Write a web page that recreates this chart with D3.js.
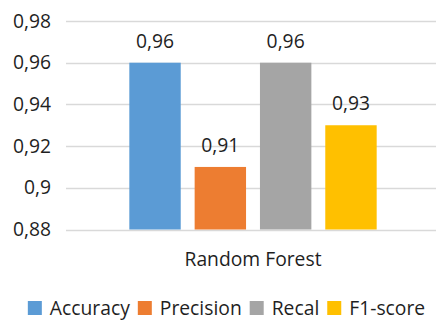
<!DOCTYPE html>
<html>
<head>
<meta charset="utf-8">
<script src="https://cdn.jsdelivr.net/npm/d3@7"></script>
<style>
  html, body { margin: 0; padding: 0; background: #fff; }
  svg { display: block; font-family: "Open Sans", sans-serif; }
</style>
</head>
<body>
<svg id="chart" width="436" height="320"></svg>
<script>
// Model scores for the Random Forest classifier
const categories = ["Random Forest"];
const seriesNames = ["Accuracy", "Precision", "Recal", "F1-score"];
const seriesValues = [0.96, 0.91, 0.96, 0.93];
const seriesColors = ["#5B9BD5", "#ED7D31", "#A5A5A5", "#FFC000"];
const yTickValues = [0.88, 0.90, 0.92, 0.94, 0.96, 0.98];
const yTickLabels = ["0,88", "0,9", "0,92", "0,94", "0,96", "0,98"];

const svg = d3.select("#chart");
const plot = { left: 66, right: 440, top: 21, bottom: 229.5 };
const fontSize = 19.3;
const textColor = "#1f1f1f";

const y = d3.scaleLinear().domain([0.88, 0.98]).range([plot.bottom, plot.top]);

const x0 = d3.scaleBand().domain(categories)
  .range([plot.left, plot.right]).paddingInner(0).paddingOuter(0.256);
const x1 = d3.scaleBand().domain(seriesNames)
  .range([0, x0.bandwidth()]).paddingInner(0.213).paddingOuter(0);

const fmt = v => d3.format(".2f")(v).replace(/0$/, "").replace(".", ",");

// Gridlines
svg.append("g")
  .selectAll("line").data(yTickValues).join("line")
  .attr("x1", plot.left).attr("x2", plot.right)
  .attr("y1", d => Math.round(y(d)) + 0.5).attr("y2", d => Math.round(y(d)) + 0.5)
  .attr("stroke", "#D9D9D9").attr("stroke-width", 1.3);

// Y axis labels
const yAxis = d3.axisLeft(y)
  .tickValues(yTickValues)
  .tickFormat((d, i) => yTickLabels[i])
  .tickSize(0).tickPadding(0);
const gy = svg.append("g").attr("transform", `translate(51,0)`).call(yAxis);
gy.select(".domain").remove();
gy.selectAll("text")
  .attr("font-family", "Open Sans, sans-serif")
  .attr("font-size", fontSize).attr("fill", textColor);

// Bars
const group = svg.append("g").selectAll("g").data(categories).join("g")
  .attr("transform", d => `translate(${x0(d)},0)`);

const rows = seriesNames.map((name, i) => ({ name, value: seriesValues[i], color: seriesColors[i] }));

group.selectAll("rect").data(rows).join("rect")
  .attr("x", d => x1(d.name))
  .attr("width", x1.bandwidth())
  .attr("y", d => y(d.value))
  .attr("height", d => y(0.88) - y(d.value))
  .attr("fill", d => d.color);

// Value labels
group.selectAll("text.val").data(rows).join("text")
  .attr("class", "val")
  .attr("x", d => x1(d.name) + x1.bandwidth() / 2)
  .attr("y", d => y(d.value) - 15)
  .attr("text-anchor", "middle")
  .attr("font-size", fontSize).attr("fill", textColor)
  .text(d => fmt(d.value));

// Category label
const xAxis = d3.axisBottom(x0).tickSize(0).tickPadding(0);
const gx = svg.append("g").attr("transform", `translate(0,${plot.bottom + 36.5})`).call(xAxis);
gx.select(".domain").remove();
gx.selectAll("text")
  .attr("dy", 0)
  .attr("font-family", "Open Sans, sans-serif")
  .attr("font-size", fontSize).attr("fill", textColor);

// Legend
const legend = svg.append("g");
const items = legend.selectAll("g").data(rows).join("g");
items.append("rect").attr("width", 14).attr("height", 14).attr("y", -14)
  .attr("fill", d => d.color);
items.append("text").attr("x", 22).attr("y", 0)
  .attr("font-size", fontSize).attr("fill", textColor)
  .text(d => d.name);
let cx = 0;
items.each(function() {
  const w = 22 + this.querySelector("text").getComputedTextLength();
  d3.select(this).attr("transform", `translate(${cx},0)`);
  cx += w + 8;
});
const totalW = cx - 8;
legend.attr("transform", `translate(${226.5 - totalW / 2},${315})`);
</script>
</body>
</html>
